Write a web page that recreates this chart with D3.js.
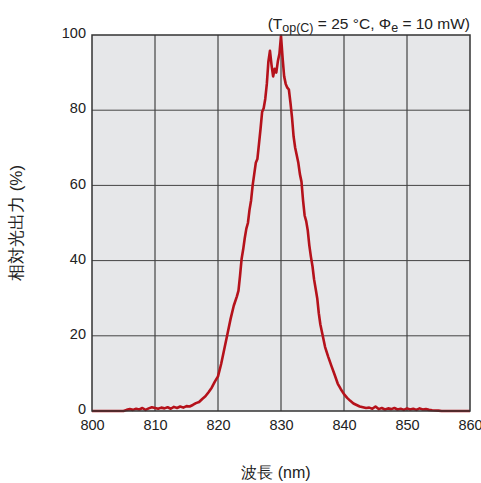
<!DOCTYPE html>
<html>
<head>
<meta charset="utf-8">
<script src="https://cdn.jsdelivr.net/npm/d3@7"></script>
<style>
  body { margin: 0; background: #fff; }
  text { font-family: "Liberation Sans", Arial, sans-serif; fill: #222; }
</style>
</head>
<body>
<svg id="chart" width="481" height="483"></svg>
<script>
// spectrum: wavelength (nm) and relative output (%)
const wavelength = [
    800, 801, 802, 803, 804, 805, 805.5, 806, 806.5, 807, 807.5, 808, 808.5, 809, 809.5,
    810, 810.5, 811, 811.5, 812, 812.5, 813, 813.5, 814, 814.5, 815, 815.5, 816, 816.5,
    817, 817.5, 818, 818.5, 819, 819.5, 820, 820.5, 821, 821.5, 822, 822.5, 823, 823.25,
    823.5, 823.75, 824, 824.25, 824.5, 824.75, 825, 825.25, 825.5, 825.75, 826, 826.25,
    826.5, 826.75, 827, 827.25, 827.5, 827.75, 828, 828.25, 828.5, 828.75, 829, 829.25,
    829.5, 829.75, 830, 830.25, 830.5, 830.75, 831, 831.25, 831.5, 831.75, 832, 832.25,
    832.5, 832.75, 833, 833.25, 833.5, 833.75, 834, 834.25, 834.5, 834.75, 835, 835.25,
    835.5, 835.75, 836, 836.25, 836.5, 837, 837.5, 838, 838.5, 839, 839.5, 840, 840.5,
    841, 841.5, 842, 842.5, 843, 843.5, 844, 844.5, 845, 845.5, 846, 846.5, 847, 847.5,
    848, 848.5, 849, 849.5, 850, 850.5, 851, 851.5, 852, 852.5, 853, 853.5, 854, 855,
    855.5, 860
];
const relOutput = [
    0, 0, 0, 0, 0, 0, 0.3, 0.5, 0.3, 0.6, 0.4, 0.8, 0.3, 0.7, 1.0,
    0.8, 0.6, 0.9, 0.7, 1.0, 0.6, 1.1, 0.8, 1.2, 0.9, 1.3, 1.2, 1.6, 2.1,
    2.4, 3.2, 3.9, 5.0, 6.2, 7.8, 9.2, 12.5, 16.5, 20.5, 24.5, 28, 30.5, 32,
    36, 40.5, 43, 46, 48.5, 50, 53.5, 56, 60, 63, 66, 67,
    71, 75, 79.5, 80.5, 83, 87, 93, 95.8, 92, 89, 91, 90,
    93, 95, 99.8, 94, 89, 87, 86, 85.5, 82, 78, 73, 70,
    68, 66, 63, 61, 56, 52, 50.5, 48, 44, 41, 38.5, 35,
    32.5, 30, 26, 23, 21, 17, 14.4, 12, 9.7, 7.3, 5.8, 4.5, 3.5,
    2.7, 2.0, 1.6, 1.2, 1.0, 0.8, 0.9, 0.6, 1.2, 0.5, 0.8, 0.4, 0.7, 0.5,
    0.8, 0.4, 0.6, 0.3, 0.7, 0.4, 0.6, 0.3, 0.7, 0.4, 0.5, 0.3, 0.2, 0.1,
    0, 0
];
const xTicks = [800, 810, 820, 830, 840, 850, 860];
const yTicks = [0, 20, 40, 60, 80, 100];

const svg = d3.select("#chart");
const plotL = 92, plotR = 470, plotT = 35, plotB = 411;

const x = d3.scaleLinear().domain([800, 860]).range([plotL, plotR]);
const y = d3.scaleLinear().domain([0, 100]).range([plotB, plotT]);

// plot background
svg.append("rect")
    .attr("x", plotL).attr("y", plotT)
    .attr("width", plotR - plotL).attr("height", plotB - plotT)
    .attr("fill", "#e6e7e9");

// grid
svg.append("g")
    .selectAll("line")
    .data(xTicks.slice(1, -1))
    .join("line")
    .attr("x1", d => x(d)).attr("x2", d => x(d))
    .attr("y1", plotT).attr("y2", plotB)
    .attr("stroke", "#222").attr("stroke-width", 1);

svg.append("g")
    .selectAll("line")
    .data(yTicks.slice(1, -1))
    .join("line")
    .attr("x1", plotL).attr("x2", plotR)
    .attr("y1", d => y(d)).attr("y2", d => y(d))
    .attr("stroke", "#444").attr("stroke-width", 1);

// axes (labels only, the frame is drawn separately)
const xAxis = svg.append("g")
    .attr("transform", `translate(0,${plotB})`)
    .call(d3.axisBottom(x).tickValues(xTicks).tickSize(0).tickPadding(9));
const yAxis = svg.append("g")
    .attr("transform", `translate(${plotL},-2)`)
    .call(d3.axisLeft(y).tickValues(yTicks).tickSize(0).tickPadding(6));
[xAxis, yAxis].forEach(g => {
    g.select(".domain").remove();
    g.selectAll("text")
        .attr("font-size", "14.5px")
        .attr("font-family", "'Liberation Sans', Arial, sans-serif")
        .attr("fill", "#222");
});

// spectrum
const points = wavelength.map((w, i) => ({ w, v: relOutput[i] }));
svg.append("path")
    .datum(points)
    .attr("fill", "none")
    .attr("stroke", "#b5121b")
    .attr("stroke-width", 2.6)
    .attr("stroke-linejoin", "round")
    .attr("d", d3.line().x(d => x(d.w)).y(d => y(d.v)));

// frame
svg.append("rect")
    .attr("x", plotL).attr("y", plotT)
    .attr("width", plotR - plotL).attr("height", plotB - plotT)
    .attr("fill", "none")
    .attr("stroke", "#333").attr("stroke-width", 1.5);

// condition note
const note = svg.append("text")
    .attr("x", plotR).attr("y", 29)
    .attr("text-anchor", "end")
    .attr("font-size", "15.5px");
note.append("tspan").text("(T");
note.append("tspan").attr("font-size", "12.5px").attr("dy", 3).text("op(C)");
note.append("tspan").attr("dy", -3).text(" = 25 °C, Φ");
note.append("tspan").attr("font-size", "12.5px").attr("dy", 3).text("e");
note.append("tspan").attr("dy", -3).text(" = 10 mW)");

// axis titles
svg.append("text")
    .attr("x", 276).attr("y", 478)
    .attr("text-anchor", "middle")
    .attr("font-size", "16px")
    .attr("font-family", "'Noto Sans CJK JP', sans-serif")
    .text("波長 (nm)");

svg.append("text")
    .attr("transform", `translate(22,${(plotT + plotB) / 2}) rotate(-90)`)
    .attr("text-anchor", "middle")
    .attr("font-size", "17px")
    .attr("font-family", "'Noto Sans CJK JP', sans-serif")
    .text("相対光出力 (%)");
</script>
</body>
</html>
